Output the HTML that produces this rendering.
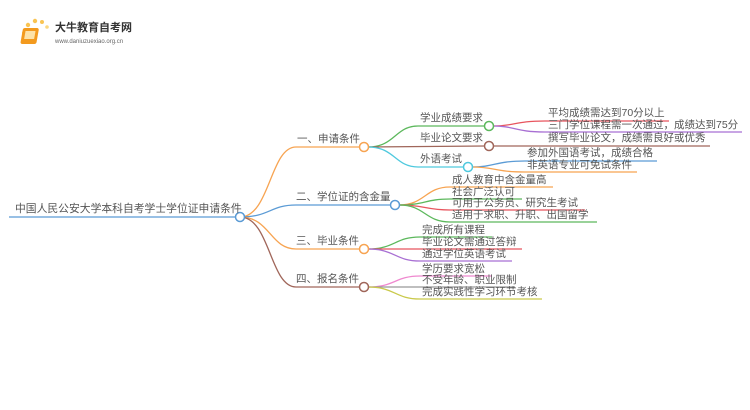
<!DOCTYPE html>
<html><head><meta charset="utf-8"><style>
html,body{margin:0;padding:0;background:#fff;}
svg{display:block;}
text{font-family:"Liberation Sans","Noto Sans CJK SC",sans-serif;font-size:10.5px;fill:#555;}
</style></head><body>
<svg width="750" height="410" viewBox="0 0 750 410" xmlns="http://www.w3.org/2000/svg">
<g>
<circle cx="24" cy="33" r="2" fill="#f9c453"/><circle cx="28" cy="25" r="2.2" fill="#f9c453"/><circle cx="35" cy="21" r="2.2" fill="#f9c453"/><circle cx="42" cy="22" r="2" fill="#f9c453"/><circle cx="47" cy="27" r="1.8" fill="#fbd77f"/><circle cx="23" cy="40" r="1.6" fill="#fbd77f"/>
<rect x="28" y="28" width="16" height="16" rx="2" fill="#f39a1e" transform="skewX(-10)"/>
<rect x="31" y="31" width="10" height="8" fill="#fde2a8" transform="skewX(-10)"/>
<text x="55" y="31" style="font-size:11px;fill:#333;font-weight:bold">大牛教育自考网</text>
<text x="55" y="43" style="font-size:6px;fill:#666">www.daniuzuexiao.org.cn</text>
</g>
<g fill="none" stroke-width="1.3">
<line x1="9" y1="217" x2="236" y2="217" stroke="#5b9bd5"/>
<path d="M240 217 C270 217 270 147 296 147 L360 147" stroke="#f7a452"/>
<path d="M240 217 C270 217 270 205 296 205 L391 205" stroke="#5b9bd5"/>
<path d="M240 217 C270 217 270 249 296 249 L360 249" stroke="#f7a452"/>
<path d="M240 217 C270 217 270 287 296 287 L360 287" stroke="#a0665a"/>
<path d="M368 147 C395 147 395 126 418 126 L485 126" stroke="#5cb85c"/>
<path d="M368 147 L485 146" stroke="#a0665a"/>
<path d="M368 147 C395 147 395 167 418 167 L464 167" stroke="#4fc9de"/>
<path d="M493 126 C515 126 515 121 545 121 L669 121" stroke="#e8555e"/>
<path d="M493 126 C515 126 515 132 545 132 L742 132" stroke="#a86fd3"/>
<path d="M493 146 L710 146" stroke="#a0665a"/>
<path d="M472 167 C495 167 495 161 525 161 L657 161" stroke="#5b9bd5"/>
<path d="M472 167 C495 167 495 172 525 172 L637 172" stroke="#f7a452"/>
<path d="M399 205 C425 205 425 187 450 187 L553 187" stroke="#f7a452"/>
<path d="M399 205 C425 205 425 199 450 199 L522 199" stroke="#5cb85c"/>
<path d="M399 205 C425 205 425 210 450 210 L585 210" stroke="#e8555e"/>
<path d="M399 205 C425 205 425 222 450 222 L597 222" stroke="#5cb85c"/>
<path d="M368 249 C395 249 395 237 420 237 L492 237" stroke="#5cb85c"/>
<path d="M368 249 L522 249" stroke="#e8555e"/>
<path d="M368 249 C395 249 395 261 420 261 L512 261" stroke="#a86fd3"/>
<path d="M368 287 C395 287 395 276 420 276 L492 276" stroke="#ef88cf"/>
<path d="M368 287 L515 287" stroke="#999"/>
<path d="M368 287 C395 287 395 299 420 299 L542 299" stroke="#c9c94a"/>
</g>
<g fill="#fff" stroke-width="1.5">
<circle cx="240" cy="217" r="4.5" stroke="#5b9bd5"/>
<circle cx="364" cy="147" r="4.5" stroke="#f7a452"/>
<circle cx="395" cy="205" r="4.5" stroke="#5b9bd5"/>
<circle cx="364" cy="249" r="4.5" stroke="#f7a452"/>
<circle cx="364" cy="287" r="4.5" stroke="#a0665a"/>
<circle cx="489" cy="126" r="4.5" stroke="#5cb85c"/>
<circle cx="489" cy="146" r="4.5" stroke="#a0665a"/>
<circle cx="468" cy="167" r="4.5" stroke="#4fc9de"/>
</g>
<text x="15" y="212" style="font-size:10.8px">中国人民公安大学本科自考学士学位证申请条件</text>
<text x="297" y="142">一、申请条件</text>
<text x="296" y="200">二、学位证的含金量</text>
<text x="296" y="244">三、毕业条件</text>
<text x="296" y="282">四、报名条件</text>
<text x="420" y="121">学业成绩要求</text>
<text x="420" y="141">毕业论文要求</text>
<text x="420" y="162">外语考试</text>
<text x="548" y="116">平均成绩需达到70分以上</text>
<text x="548" y="128">三门学位课程需一次通过，成绩达到75分</text>
<text x="548" y="141">撰写毕业论文，成绩需良好或优秀</text>
<text x="527" y="156">参加外国语考试，成绩合格</text>
<text x="527" y="168">非英语专业可免试条件</text>
<text x="452" y="183">成人教育中含金量高</text>
<text x="452" y="195">社会广泛认可</text>
<text x="452" y="206">可用于公务员、研究生考试</text>
<text x="452" y="218">适用于求职、升职、出国留学</text>
<text x="422" y="233">完成所有课程</text>
<text x="422" y="245">毕业论文需通过答辩</text>
<text x="422" y="257">通过学位英语考试</text>
<text x="422" y="272">学历要求宽松</text>
<text x="422" y="283">不受年龄、职业限制</text>
<text x="422" y="295">完成实践性学习环节考核</text>
</svg>
</body></html>
